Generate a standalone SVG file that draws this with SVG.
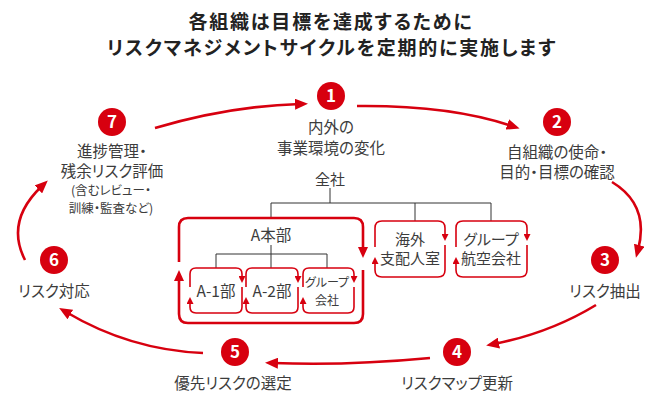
<svg xmlns="http://www.w3.org/2000/svg" width="650" height="394" viewBox="0 0 650 394">
<defs>
<style>
text{font-family:"Noto Sans CJK JP","Noto Sans",sans-serif;fill:#3c3c3c;text-anchor:middle;font-feature-settings:"palt"}
.t{font-size:19px;font-weight:700;fill:#222;letter-spacing:1.8px}
.l{font-size:15.5px}
.s{font-size:12.5px}
.o{font-size:15px}
.g{font-size:12px}
.n{font-size:17px;font-weight:700;fill:#fff}
.c{fill:#d7000f}
.cy{fill:none;stroke:#d7000f;stroke-width:2.6}
.bx{fill:none;stroke:#d7000f;stroke-width:2.6}
.sb{fill:none;stroke:#d7000f;stroke-width:1.6}
.tr{fill:none;stroke:#333;stroke-width:1}
</style>
<marker id="ah" markerUnits="userSpaceOnUse" markerWidth="13" markerHeight="11" viewBox="0 0 13 11" refX="5" refY="5.5" orient="auto"><path d="M0,0 L13,5.5 L0,11 z" fill="#d7000f"/></marker>
<marker id="am" markerUnits="userSpaceOnUse" markerWidth="11" markerHeight="10" viewBox="0 0 11 10" refX="4" refY="5" orient="auto"><path d="M0,0 L11,5 L0,10 z" fill="#d7000f"/></marker>
<marker id="as" markerUnits="userSpaceOnUse" markerWidth="7" markerHeight="7" viewBox="0 0 7 7" refX="2" refY="3.5" orient="auto"><path d="M0,0 L7,3.5 L0,7 z" fill="#d7000f"/></marker>
</defs>

<g id="title">
<text class="t" x="331" y="29">各組織は目標を達成するために</text>
<text class="t" x="332" y="55">リスクマネジメントサイクルを定期的に実施します</text>
</g>

<g id="connectors">
<path class="cy" d="M155,128 Q230,106 300,104" marker-end="url(#ah)"/>
<path class="cy" d="M357,106 Q450,105 512,126" marker-end="url(#ah)"/>
<path class="cy" d="M612,182 Q650,205 638,250" marker-end="url(#ah)"/>
<path class="cy" d="M596,305 Q550,333 494,344" marker-end="url(#ah)"/>
<path class="cy" d="M430,358 Q345,366 273,363" marker-end="url(#ah)"/>
<path class="cy" d="M203,353 Q130,350 66,312" marker-end="url(#ah)"/>
<path class="cy" d="M25,260 Q5,221 42,186" marker-end="url(#ah)"/>
</g>

<g id="step1">
<circle class="c" cx="331" cy="96" r="14"/>
<text class="n" x="331" y="102">1</text>
<text class="l" x="331" y="133">内外の</text>
<text class="l" x="331" y="154">事業環境の変化</text>
</g>
<g id="step2">
<circle class="c" cx="557" cy="122" r="14"/>
<text class="n" x="557" y="128">2</text>
<text class="l" x="557" y="158">自組織の使命・</text>
<text class="l" x="557" y="178">目的・目標の確認</text>
</g>
<g id="step3">
<circle class="c" cx="605" cy="260" r="14"/>
<text class="n" x="605" y="266">3</text>
<text class="l" x="605" y="297">リスク抽出</text>
</g>
<g id="step4">
<circle class="c" cx="457" cy="352" r="14"/>
<text class="n" x="457" y="358">4</text>
<text class="l" x="457" y="389">リスクマップ更新</text>
</g>
<g id="step5">
<circle class="c" cx="235" cy="352" r="14"/>
<text class="n" x="235" y="358">5</text>
<text class="l" x="233" y="389">優先リスクの選定</text>
</g>
<g id="step6">
<circle class="c" cx="54" cy="260" r="14"/>
<text class="n" x="54" y="266">6</text>
<text class="l" x="54" y="297">リスク対応</text>
</g>
<g id="step7">
<circle class="c" cx="112" cy="122" r="14"/>
<text class="n" x="112" y="128">7</text>
<text class="l" x="112" y="157">進捗管理・</text>
<text class="l" x="112" y="177">残余リスク評価</text>
<text class="s" x="111" y="195">(含むレビュー・</text>
<text class="s" x="111" y="213">訓練・監査など)</text>
</g>

<g id="tree">
<path class="tr" d="M330,188 V203 M271,203 H491 M271,203 V218 M415,203 V221 M491,203 V221"/>
<path class="tr" d="M271,245 V254 M216,254 H327 M216,254 V268 M271,254 V268 M327,254 V268"/>
</g>

<g id="zensha">
<text class="o" x="330" y="185">全社</text>
</g>

<g id="a-honbu">
<path class="bx" d="M179,262 V227 Q179,218 188,218 H354 Q363,218 363,227 V251" marker-end="url(#am)"/>
<path class="bx" d="M363,270 V314 Q363,323 354,323 H188 Q179,323 179,314 V277" marker-end="url(#am)"/>
<text class="l" x="271" y="241">A本部</text>
</g>

<g id="a1">
<path class="sb" d="M190,287 V274 Q190,268 196,268 H236 Q242,268 242,274 V278" marker-end="url(#as)"/>
<path class="sb" d="M242,287 V307 Q242,313 236,313 H196 Q190,313 190,307 V302" marker-end="url(#as)"/>
<text class="l" x="216" y="297">A-1部</text>
</g>
<g id="a2">
<path class="sb" d="M246,287 V274 Q246,268 252,268 H292 Q298,268 298,274 V278" marker-end="url(#as)"/>
<path class="sb" d="M298,287 V307 Q298,313 292,313 H252 Q246,313 246,307 V302" marker-end="url(#as)"/>
<text class="l" x="272" y="297">A-2部</text>
</g>
<g id="a-group">
<path class="sb" d="M303,287 V274 Q303,268 309,268 H348 Q354,268 354,274 V278" marker-end="url(#as)"/>
<path class="sb" d="M354,287 V307 Q354,313 348,313 H309 Q303,313 303,307 V302" marker-end="url(#as)"/>
<text class="g" x="327" y="287">グループ</text>
<text class="g" x="327" y="305">会社</text>
</g>

<g id="kaigai">
<path class="sb" d="M375,247 V228 Q375,221 382,221 H438 Q445,221 445,228 V236" marker-end="url(#as)"/>
<path class="sb" d="M445,245 V270 Q445,277 438,277 H382 Q375,277 375,270 V262" marker-end="url(#as)"/>
<text class="o" x="410" y="245">海外</text>
<text class="o" x="410" y="264">支配人室</text>
</g>
<g id="group-air">
<path class="sb" d="M456,247 V228 Q456,221 463,221 H520 Q527,221 527,228 V236" marker-end="url(#as)"/>
<path class="sb" d="M527,245 V270 Q527,277 520,277 H463 Q456,277 456,270 V262" marker-end="url(#as)"/>
<text class="o" x="491" y="245">グループ</text>
<text class="o" x="491" y="264">航空会社</text>
</g>
</svg>
